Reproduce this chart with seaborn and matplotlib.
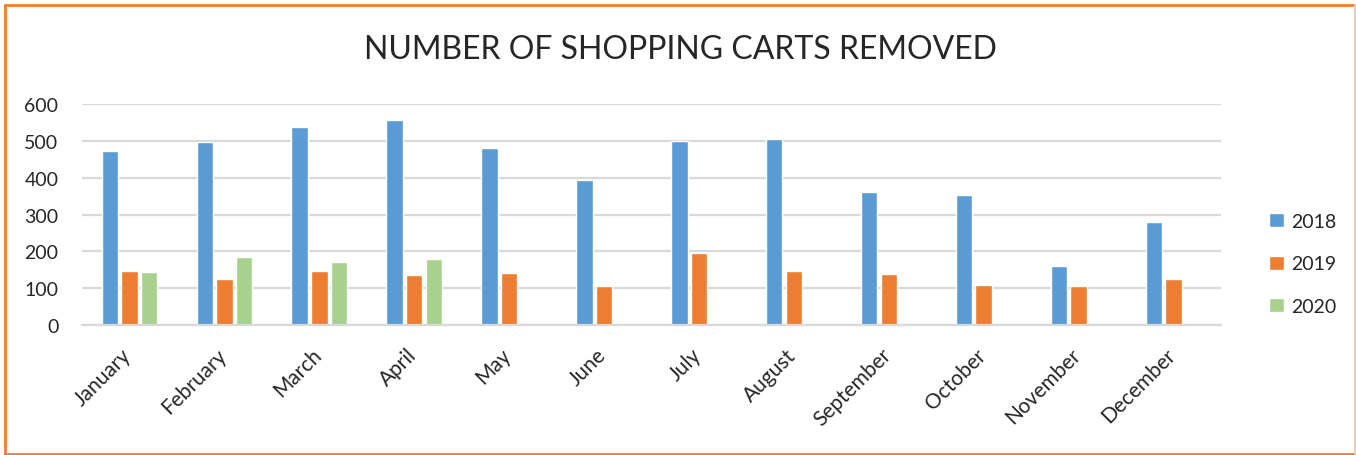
import matplotlib
matplotlib.use("Agg")
import matplotlib.pyplot as plt
import matplotlib.transforms as mtransforms
import pandas as pd
import seaborn as sns
from matplotlib.lines import Line2D

months = ["January", "February", "March", "April", "May", "June", "July",
          "August", "September", "October", "November", "December"]
years = ["2018", "2019", "2020"]
carts_2018 = [472, 498, 538, 556, 482, 393, 499, 504, 360, 353, 161, 281]
carts_2019 = [146, 125, 148, 136, 140, 106, 196, 146, 139, 108, 105, 125]
carts_2020 = [143, 186, 171, 178]  # only Jan-Apr reported

colors = ["#5B9BD5", "#ED7D31", "#A9D18E"]

rows = []
for year, values in zip(years, [carts_2018, carts_2019, carts_2020]):
    for month, v in zip(months, values):
        rows.append({"Month": month, "Year": year, "Carts": v})
df = pd.DataFrame(rows)

sns.set_style("white")
plt.rcParams["font.family"] = ["Lato", "DejaVu Sans"]

fig = plt.figure(figsize=(13.56, 4.56), dpi=100)
ax = fig.add_axes([0.0605, 0.285, 0.8399, 0.4845])

sns.barplot(
    data=df,
    x="Month",
    y="Carts",
    hue="Year",
    order=months,
    hue_order=years,
    palette=colors,
    saturation=1,
    width=0.62,
    gap=0.16,
    errorbar=None,
    ax=ax,
)

ax.set_ylim(0, 600)
ax.set_yticks(range(0, 601, 100))
ax.set_xlim(-0.5, 11.5)
ax.set_xlabel(None)
ax.set_ylabel(None)
ax.yaxis.grid(True, color="#d9d9d9", lw=1.6)
ax.set_axisbelow(True)
for side in ["top", "right", "left"]:
    ax.spines[side].set_visible(False)
ax.spines["bottom"].set_color("#d9d9d9")
ax.spines["bottom"].set_linewidth(1.6)

ax.tick_params(axis="y", length=0, pad=17, labelsize=14)
ax.tick_params(axis="x", length=0, pad=14, labelsize=15)
# Excel-style: rotated month names sit slightly right of the group centre
shift = mtransforms.ScaledTranslation(6 / 100, 0, fig.dpi_scale_trans)
for lab in ax.get_xticklabels():
    lab.set_rotation(45)
    lab.set_ha("right")
    lab.set_transform(lab.get_transform() + shift)

handles, labels = ax.get_legend_handles_labels()
ax.legend_.remove()
fig.legend(
    handles, labels,
    loc="center left",
    bbox_to_anchor=(0.929, 0.419),
    frameon=False,
    fontsize=14,
    borderpad=0,
    handlelength=0.75,
    handleheight=0.75,
    handletextpad=0.35,
    labelspacing=1.3,
)

fig.text(0.502, 0.89, "NUMBER OF SHOPPING CARTS REMOVED",
         ha="center", va="center", fontsize=23)

# chart frame
W, H = 1356, 456
frame = "#ED7D31"
fig.add_artist(Line2D([5 / W, 5 / W], [1 - 6 / H, 1 - 455 / H], color=frame, lw=2))
fig.add_artist(Line2D([5 / W, 1355 / W], [1 - 6 / H, 1 - 6 / H], color=frame, lw=2))
fig.add_artist(Line2D([5 / W, 1355 / W], [1 - 455 / H, 1 - 455 / H], color=frame, lw=2))
fig.add_artist(Line2D([1354.5 / W, 1354.5 / W], [1 - 6 / H, 1 - 455 / H], color="#f4cdb0", lw=1.5))

fig.savefig("out.png", dpi=100)
